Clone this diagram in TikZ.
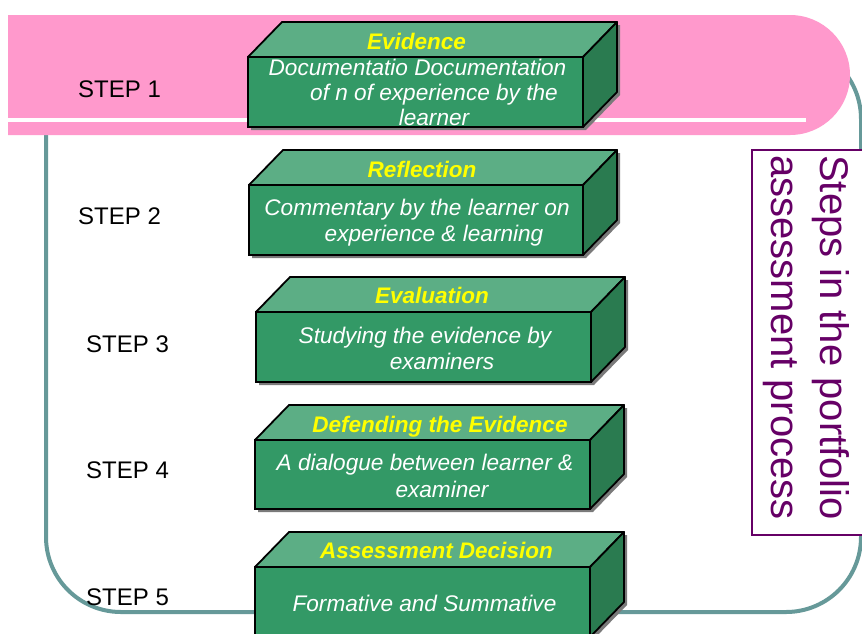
\documentclass[tikz,border=0pt]{standalone}
\usepackage{fontspec}
\setmainfont{Liberation Sans}
\definecolor{bandpink}{HTML}{FF99CC}
\definecolor{frameteal}{HTML}{669999}
\definecolor{frontgreen}{HTML}{339966}
\definecolor{topgreen}{HTML}{5CAE85}
\definecolor{sidegreen}{HTML}{2A7B50}
\definecolor{titleyellow}{HTML}{FFFF00}
\definecolor{labelpurple}{HTML}{660066}
\definecolor{shadowgray}{HTML}{7A7A7A}
\newcommand\mycuboid[5]{%
  \fill[boxshadow] (#2+3,#3+3) -- ++(34,-35) -- ++(#4,0) -- ++(0,#5) -- ++(-34,35) -- ++(-#4,0) -- cycle;
  \node[frontface, minimum width=#4pt, minimum height=#5pt, anchor=north west] (#1) at (#2,#3) {};
  \filldraw[topface] (#1.north west) -- ++(34,-35) -- ++(#4,0) -- (#1.north east) -- cycle;
  \filldraw[sideface] (#1.north east) -- ++(34,-35) -- ++(0,#5) -- (#1.south east) -- cycle;
}
\begin{document}
\begin{tikzpicture}[x=1pt,y=-1pt,
  boxshadow/.style={fill=shadowgray},
  frontface/.style={draw=black, line width=1.8pt, fill=frontgreen, inner sep=0pt, outer sep=0pt},
  topface/.style={draw=black, line width=1.8pt, fill=topgreen, line join=round},
  sideface/.style={draw=black, line width=1.8pt, fill=sidegreen, line join=round},
  titletext/.style={anchor=base, inner sep=0pt, text=titleyellow, font=\fontsize{22.5pt}{26pt}\selectfont\bfseries\itshape},
  bodytext/.style={anchor=base, inner sep=0pt, text=white, font=\fontsize{22.6pt}{26pt}\selectfont\itshape},
  steplabel/.style={anchor=base west, inner sep=0pt, text=black, font=\fontsize{24pt}{28pt}\selectfont},
  sidetext/.style={anchor=base west, inner sep=0pt, rotate=-90, text=labelpurple, font=\fontsize{40pt}{46pt}\selectfont}
]
\useasboundingbox (0,0) rectangle (862,633);
\clip (0,0) rectangle (862,633);
\fill[white] (0,0) rectangle (862,633);
% teal frame
\draw[frameteal, line width=4pt, rounded corners=75pt] (46,44) rectangle (861,612);
% pink band
\fill[bandpink] (8,15) -- (790,15) arc[start angle=-90, end angle=90, radius=60] -- (8,135) -- cycle;
\draw[white, line width=3.5pt] (8,120) -- (806,120);
% purple side label box
\filldraw[draw=labelpurple, fill=white, line width=1.5pt] (752,150) rectangle (880,535);
\node[sidetext] (side1) at (820,155) {Steps in the portfolio};
\node[sidetext] (side2) at (771,155) {assessment process};
% cuboids
\mycuboid{b1}{248}{57}{335}{70}
\mycuboid{b2}{249}{185}{334}{70}
\mycuboid{b3}{256}{312}{335}{70}
\mycuboid{b4}{255}{440}{335}{69}
\mycuboid{b5}{255}{567}{335}{70}
% box texts
\node[titletext] (t1) at (416.5,49) {Evidence};
\node[bodytext] (l1a) at (417.5,75) {Documentatio Documentation};
\node[bodytext] (l1b) at (434,100) {of n of experience by the};
\node[bodytext] (l1c) at (434,125) {learner};
\node[titletext] (t2) at (422,177) {Reflection};
\node[bodytext] (l2a) at (417,215) {Commentary by the learner on};
\node[bodytext] (l2b) at (434,241) {experience \& learning};
\node[titletext] (t3) at (432,303) {Evaluation};
\node[bodytext] (l3a) at (425,343) {Studying the evidence by};
\node[bodytext] (l3b) at (442,369) {examiners};
\node[titletext] (t4) at (440,432) {Defending the Evidence};
\node[bodytext] (l4a) at (425,470) {A dialogue between learner \&};
\node[bodytext] (l4b) at (442,497) {examiner};
\node[titletext] (t5) at (436.5,558) {Assessment Decision};
\node[bodytext] (l5a) at (424.5,611) {Formative and Summative};
% step labels
\node[steplabel] (s1) at (78,97) {STEP 1};
\node[steplabel] (s2) at (78,224) {STEP 2};
\node[steplabel] (s3) at (86,352) {STEP 3};
\node[steplabel] (s4) at (86,478) {STEP 4};
\node[steplabel] (s5) at (86,605) {STEP 5};
\end{tikzpicture}
\end{document}
